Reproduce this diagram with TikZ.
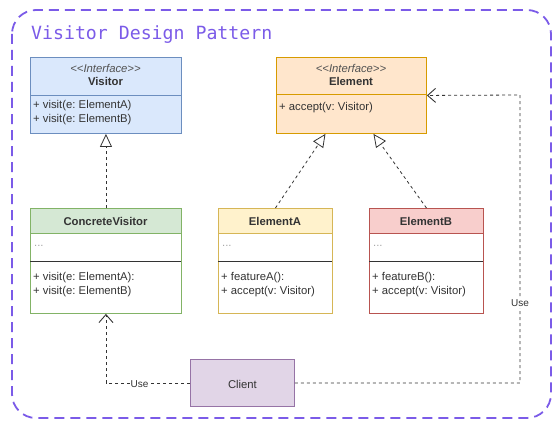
\documentclass[tikz,border=0pt]{standalone}
\usepackage{fontspec}
\setmainfont{Liberation Sans}
\newfontfamily\titlefont{DejaVu Sans Mono}
\usetikzlibrary{arrows.meta,calc}
\frenchspacing
\definecolor{frame}{HTML}{7B5BE8}
\definecolor{txt}{HTML}{333333}
\definecolor{vfill}{HTML}{DAE8FC}\definecolor{vdraw}{HTML}{6C8EBF}
\definecolor{efill}{HTML}{FFE6CC}\definecolor{edraw}{HTML}{D79B00}
\definecolor{gfill}{HTML}{D5E8D4}\definecolor{gdraw}{HTML}{82B366}
\definecolor{yfill}{HTML}{FFF2CC}\definecolor{ydraw}{HTML}{D6B656}
\definecolor{rfill}{HTML}{F8CECC}\definecolor{rdraw}{HTML}{B85450}
\definecolor{pfill}{HTML}{E1D5E7}\definecolor{pdraw}{HTML}{9673A6}
\tikzset{
  x=1pt, y=-1pt,
  box/.style={anchor=north west, inner sep=0, line width=0.9pt},
  lbl/.style={inner sep=0, text=txt, yshift=-1.2pt, font=\fontsize{11.3}{14}\selectfont},
  lft/.style={lbl, anchor=west},
  ital/.style={lbl, font=\fontsize{11.3}{14}\selectfont\itshape, text=txt!85},
  bld/.style={lbl, font=\fontsize{11.3}{14}\selectfont\bfseries},
  dots/.style={lft, text=black!35},
  conn/.style={draw=txt, line width=0.8pt, dash pattern=on 3pt off 3pt},
  real/.style={conn, -{Triangle[open, length=13pt, width=12pt, line width=0.8pt]}},
  use/.style={conn, -{Straight Barb[length=8pt, width=14pt, line width=0.9pt]}},
  uselbl/.style={lbl, fill=white, inner sep=1pt, font=\fontsize{10}{12}\selectfont},
}
\begin{document}
\begin{tikzpicture}
\useasboundingbox (0,0) rectangle (560,428);
% frame
\draw[frame, line width=1.8pt, dash pattern=on 10pt off 6pt, rounded corners=24pt] (12,10) rectangle (551,418);
\node[anchor=west, inner sep=0, yshift=-1.5pt, text=frame, font=\titlefont\fontsize{18.2}{20}\selectfont] (title) at (31,33) {Visitor Design Pattern};

% Visitor
\node[box, fill=vfill, draw=vdraw, minimum width=151pt, minimum height=76pt] (visitor) at (30,57) {};
\draw[vdraw, line width=0.8pt] (30,95) -- (181,95);
\node[ital] (vst) at (105.5,67) {{<}{<}Interface{>}{>}};
\node[bld] (vname) at (105.5,80) {Visitor};
\node[lft] (vm1) at (33,104) {+ visit(e: ElementA)};
\node[lft] (vm2) at (33,118) {+ visit(e: ElementB)};

% Element
\node[box, fill=efill, draw=edraw, minimum width=150pt, minimum height=76pt] (element) at (276,57) {};
\draw[edraw, line width=0.8pt] (276,94) -- (426,94);
\node[ital] (est) at (351,67) {{<}{<}Interface{>}{>}};
\node[bld] (ename) at (351,80) {Element};
\node[lft] (em1) at (279,106) {+ accept(v: Visitor)};

% ConcreteVisitor
\node[box, fill=white, draw=gdraw, minimum width=151pt, minimum height=105pt] (cv) at (30,208) {};
\fill[gfill] (30.45,208.45) rectangle (180.55,233);
\draw[gdraw, line width=0.9pt] (30,233) -- (181,233);
\draw[gdraw, line width=0.9pt] (30,208) rectangle (181,313);
\draw[black!80, line width=0.9pt] (30,261) -- (181,261);
\node[bld] (cvname) at (105.5,220.5) {ConcreteVisitor};
\node[dots] (cvd) at (34,245) {...};
\node[lft] (cvm1) at (33,276) {+ visit(e: ElementA):};
\node[lft] (cvm2) at (33,290) {+ visit(e: ElementB)};

% ElementA
\node[box, fill=white, draw=ydraw, minimum width=114pt, minimum height=105pt] (ea) at (218,208) {};
\fill[yfill] (218.45,208.45) rectangle (331.55,233);
\draw[ydraw, line width=0.9pt] (218,233) -- (332,233);
\draw[ydraw, line width=0.9pt] (218,208) rectangle (332,313);
\draw[black!80, line width=0.9pt] (218,261) -- (332,261);
\node[bld] (eaname) at (275,220.5) {ElementA};
\node[dots] (ead) at (222,245) {...};
\node[lft] (eam1) at (221,276) {+ featureA():};
\node[lft] (eam2) at (221,290) {+ accept(v: Visitor)};

% ElementB
\node[box, fill=white, draw=rdraw, minimum width=114pt, minimum height=105pt] (eb) at (369,208) {};
\fill[rfill] (369.45,208.45) rectangle (482.55,233);
\draw[rdraw, line width=0.9pt] (369,233) -- (483,233);
\draw[rdraw, line width=0.9pt] (369,208) rectangle (483,313);
\draw[black!80, line width=0.9pt] (369,261) -- (483,261);
\node[bld] (ebname) at (426,220.5) {ElementB};
\node[dots] (ebd) at (373,245) {...};
\node[lft] (ebm1) at (372,276) {+ featureB():};
\node[lft] (ebm2) at (372,290) {+ accept(v: Visitor)};

% Client
\node[box, fill=pfill, draw=pdraw, minimum width=104pt, minimum height=47pt] (client) at (190,359) {};
\node[lbl] (cname) at (client.center) {Client};

% connectors
\draw[real] (cv.north) -- (visitor.south);
\draw[real] (ea.north) -- ([xshift=-26pt]element.south);
\draw[real] (eb.north) -- ([xshift=22pt]element.south);
\coordinate (c2) at (520,95);
\draw[use] (client.west) -| node[uselbl, pos=0.3] {Use} (cv.south);
\draw[use] (client.east) -| node[uselbl, pos=0.64] {Use} (c2) -- (element.east);
\end{tikzpicture}
\end{document}
